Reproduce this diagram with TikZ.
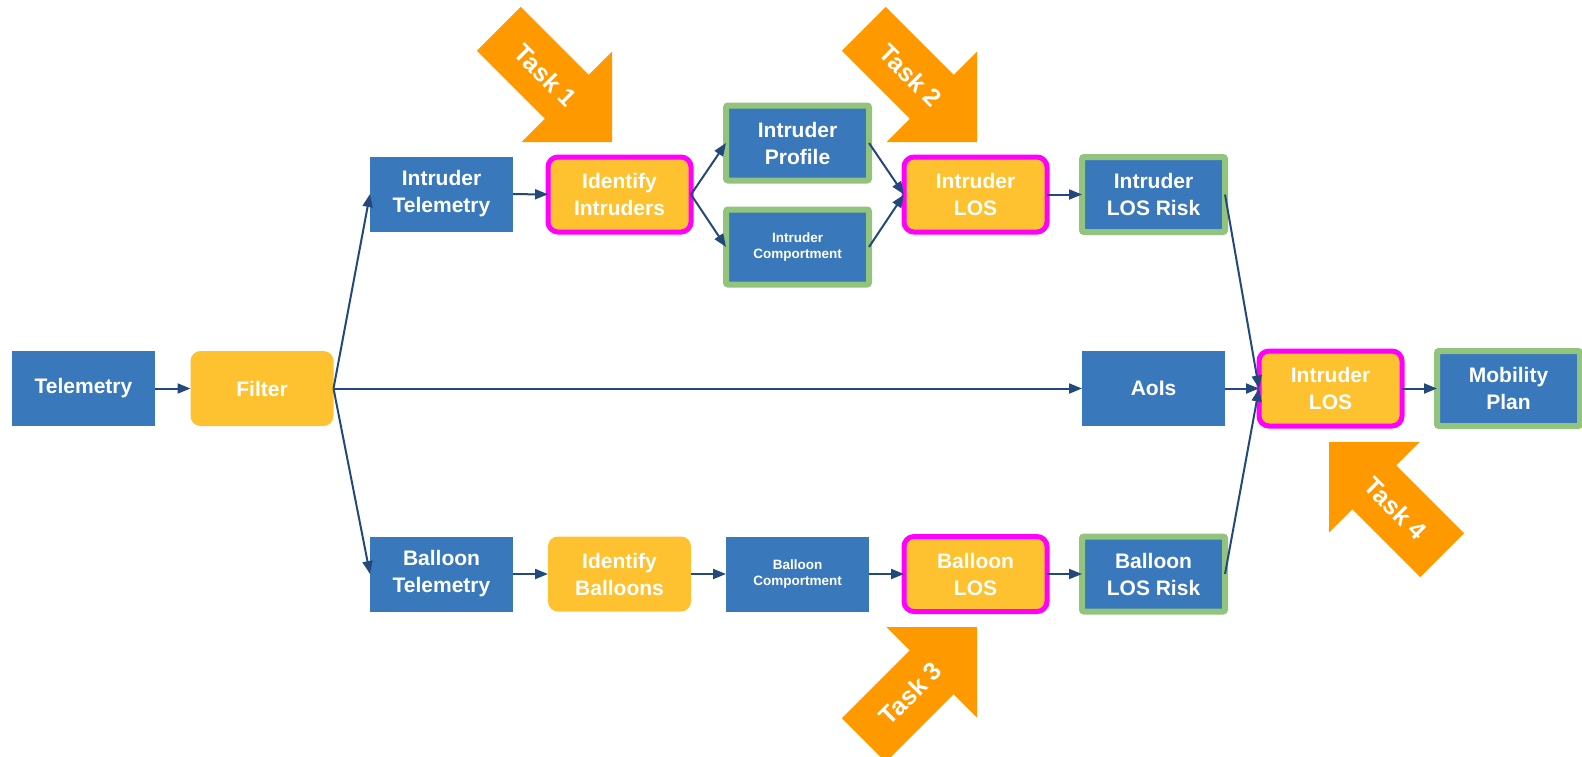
\documentclass[tikz,border=0pt]{standalone}
\usepackage{fontspec}
\setmainfont{Liberation Sans}
\usetikzlibrary{arrows.meta}
\definecolor{boxblue}{HTML}{3A78BC}
\definecolor{boxyellow}{HTML}{FEC12F}
\definecolor{boxgreen}{HTML}{93C47D}
\definecolor{ringpink}{HTML}{FF00FF}
\definecolor{linkblue}{HTML}{23487C}
\definecolor{taskorange}{HTML}{FF9900}
\begin{document}
\begin{tikzpicture}[x=0.5pt,y=-0.5pt,
  base/.style={minimum width=71.5pt, minimum height=37.5pt, inner sep=0pt,
    outer sep=0pt, align=center, text=white,
    font=\bfseries\fontsize{10.5}{13.5}\selectfont},
  bluebox/.style={base, fill=boxblue},
  yellowbox/.style={base, fill=boxyellow, rounded corners=5pt},
  greenbox/.style={base, fill=boxblue, draw=boxgreen, line width=3pt, rounded corners=1pt},
  pinkbox/.style={base, fill=boxyellow, draw=ringpink, line width=2.5pt, rounded corners=5pt},
  smalltext/.style={font=\bfseries\fontsize{6.75}{8}\selectfont},
  link/.style={draw=linkblue, line width=1pt, -{Triangle[length=6.5pt,width=5pt]}},
  tasklabel/.style={text=white, font=\bfseries\fontsize{12.5}{14}\selectfont, inner sep=0pt}
]
\useasboundingbox (0,0) rectangle (1582,756);

% main flow
\node[bluebox]   (tel)    at (83.5,388.5)  {Telemetry};
\node[yellowbox] (filt)   at (262,388.5)   {Filter};

\node[bluebox]   (itel)   at (441.5,194)   {Intruder\\Telemetry};
\node[pinkbox]   (iid)    at (619.5,194.5) {Identify\\Intruders};
\node[greenbox]  (iprof)  at (797.5,143)   {Intruder\\Profile};
\node[greenbox, smalltext] (icomp) at (797.5,247) {Intruder\\Comportment};
\node[pinkbox]   (ilos)   at (975.5,194.5) {Intruder\\LOS};
\node[greenbox]  (irisk)  at (1153.5,194.5) {Intruder\\LOS Risk};

\node[bluebox]   (aois)   at (1153.5,388.5) {AoIs};
\node[pinkbox]   (flos)   at (1330.5,388.5) {Intruder\\LOS};
\node[greenbox]  (mplan)  at (1508.5,388.5) {Mobility\\Plan};

\node[bluebox]   (btel)   at (441.5,574)   {Balloon\\Telemetry};
\node[yellowbox] (bid)    at (619.5,574)   {Identify\\Balloons};
\node[bluebox, smalltext] (bcomp) at (797.5,574) {Balloon\\Comportment};
\node[pinkbox]   (blos)   at (975.5,574)   {Balloon\\LOS};
\node[greenbox]  (brisk)  at (1153.5,574)  {Balloon\\LOS Risk};

% connectors
\draw[link] (tel) -- (filt);
\draw[link] (filt.east) -- (itel.west);
\draw[link] (filt.east) -- (aois.west);
\draw[link] (filt.east) -- (btel.west);

\draw[link] (itel) -- (iid);
\draw[link] (iid.east) -- (iprof.west);
\draw[link] (iid.east) -- (icomp.west);
\draw[link] (iprof.east) -- (ilos.west);
\draw[link] (icomp.east) -- (ilos.west);
\draw[link] (ilos) -- (irisk);

\draw[link] (btel) -- (bid);
\draw[link] (bid) -- (bcomp);
\draw[link] (bcomp) -- (blos);
\draw[link] (blos) -- (brisk);

\draw[link] (irisk.east) -- (flos.west);
\draw[link] (aois) -- (flos);
\draw[link] (brisk.east) -- (flos.west);
\draw[link] (flos) -- (mplan);

% task markers: block arrows with the tip at the scope origin, pointing along +x
\foreach \tx/\ty/\ang/\tang/\nm/\lbl in
  {612/142/-45/-45/task1/Task 1, 977/142/-45/-45/task2/Task 2,
   977/627/45/45/task3/Task 3, 1329/442/135/-45/task4/Task 4}{
  \begin{scope}[shift={(\tx,\ty)}, rotate=\ang]
    \fill[taskorange] (0,0) -- (-64,64) -- (-64,31) -- (-160,31) -- (-160,-31)
      -- (-64,-31) -- (-64,-64) -- cycle;
    \coordinate (\nm c) at (-94,0);
  \end{scope}
  \node[tasklabel, rotate=\tang] (\nm) at (\nm c) {\lbl};
}
\end{tikzpicture}
\end{document}
